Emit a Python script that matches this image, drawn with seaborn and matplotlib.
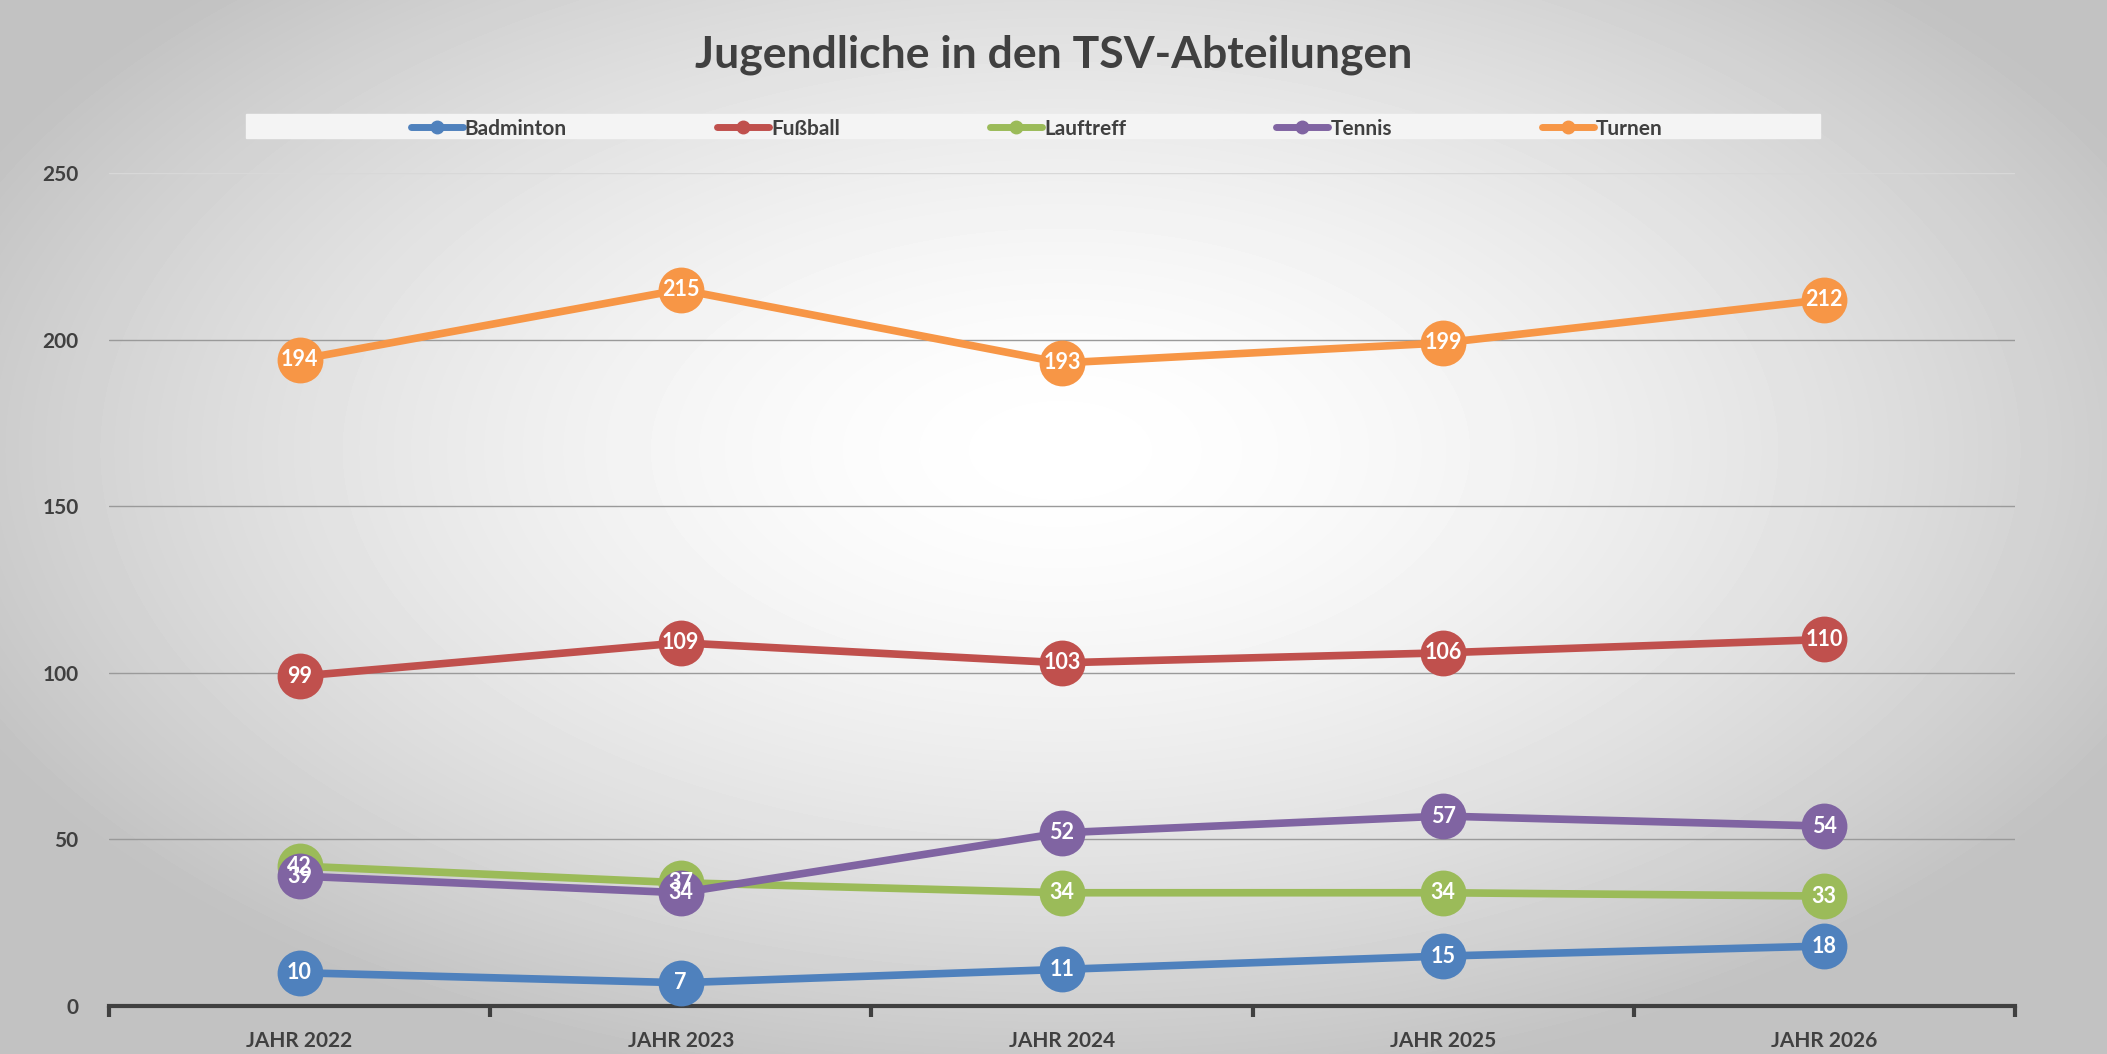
import numpy as np
import pandas as pd
import matplotlib
matplotlib.use("Agg")
import matplotlib.pyplot as plt
import seaborn as sns
from matplotlib.lines import Line2D

# Daten
jahre = ["JAHR 2022", "JAHR 2023", "JAHR 2024", "JAHR 2025", "JAHR 2026"]
badminton = [10, 7, 11, 15, 18]
fussball = [99, 109, 103, 106, 110]
lauftreff = [42, 37, 34, 34, 33]
tennis = [39, 34, 52, 57, 54]
turnen = [194, 215, 193, 199, 212]

abteilungen = ["Badminton", "Fußball", "Lauftreff", "Tennis", "Turnen"]
farben = ["#4F81BD", "#C0504D", "#9BBB59", "#8064A2", "#F79646"]

df = pd.DataFrame({
    "Jahr": jahre * 5,
    "pos": list(range(5)) * 5,
    "Abteilung": np.repeat(abteilungen, 5),
    "Wert": badminton + fussball + lauftreff + tennis + turnen,
})

sns.set_style("white")
plt.rcParams["font.family"] = ["Lato", "DejaVu Sans"]

fig = plt.figure(figsize=(21.07, 10.54), dpi=100)

# Hintergrund: radialer Verlauf
bg = fig.add_axes([0, 0, 1, 1], zorder=-10)
yy, xx = np.mgrid[0:1054, 0:2107]
d = np.sqrt(((xx - 1060) / 1200) ** 2 + ((yy - 450) / 650) ** 2)
grau = 1 - 0.24 * np.clip(d, 0, 1) ** 1.6
bg.imshow(grau, cmap="gray", vmin=0, vmax=1, aspect="auto")
bg.axis("off")

ax = fig.add_axes([0.0517, 0.0455, 0.9046, 0.7904])
ax.patch.set_alpha(0)

sns.lineplot(data=df, x="pos", y="Wert", hue="Abteilung", palette=farben,
             marker="o", markersize=33, linewidth=5.5, markeredgewidth=0,
             legend=False, ax=ax, zorder=3)

for ab in abteilungen:
    sub = df[df["Abteilung"] == ab]
    for _, r in sub.iterrows():
        ax.text(r["pos"], r["Wert"], str(r["Wert"]), color="white",
                fontsize=15.5, fontweight="bold", ha="center", va="center", zorder=5)

ax.set_xlim(-0.5, 4.5)
ax.set_ylim(0, 250)
ax.set_yticks([0, 50, 100, 150, 200, 250])
ax.set_xticks(range(5))
ax.set_xticklabels(jahre)
ax.set_xlabel("")
ax.set_ylabel("")
for y in [50, 100, 150, 200]:
    ax.axhline(y, color="#9a9a9a", linewidth=1, zorder=1)
ax.axhline(250, color="#d8d8d8", linewidth=1, zorder=1)

for s in ["top", "right", "left"]:
    ax.spines[s].set_visible(False)
ax.spines["bottom"].set_color("#404040")
ax.spines["bottom"].set_linewidth(3)
ax.spines["bottom"].set_zorder(2)

ax.tick_params(axis="y", length=0, pad=22, labelsize=15, labelcolor="#404040")
ax.tick_params(axis="x", length=0, pad=18, labelsize=15, labelcolor="#404040")
for lab in ax.get_xticklabels() + ax.get_yticklabels():
    lab.set_fontweight("bold")
ax.set_xticks(np.arange(-0.5, 5, 1), minor=True)
ax.tick_params(axis="x", which="minor", bottom=True, length=8, width=3,
               color="#404040", direction="out")

fig.text(0.5, 0.948, "Jugendliche in den TSV-Abteilungen", ha="center", va="center",
         fontsize=32, fontweight="bold", color="#404040")

# Legende
fig.patches.append(plt.Rectangle((246 / 2107, 1 - 138 / 1054), (1820 - 246) / 2107, 24 / 1054,
                                 transform=fig.transFigure, color="#f4f4f4", zorder=-5))
handles = [Line2D([0], [0], color=c, linewidth=5, marker="o", markersize=9) for c in farben]
leg = fig.legend(handles, abteilungen, loc="center", bbox_to_anchor=(0.492, 0.878), ncol=5,
                 frameon=False, fontsize=15, columnspacing=7.2, handlelength=2.5,
                 handletextpad=0.1, labelcolor="#404040")
for t in leg.get_texts():
    t.set_fontweight("bold")

fig.savefig("out.png", dpi=100)
